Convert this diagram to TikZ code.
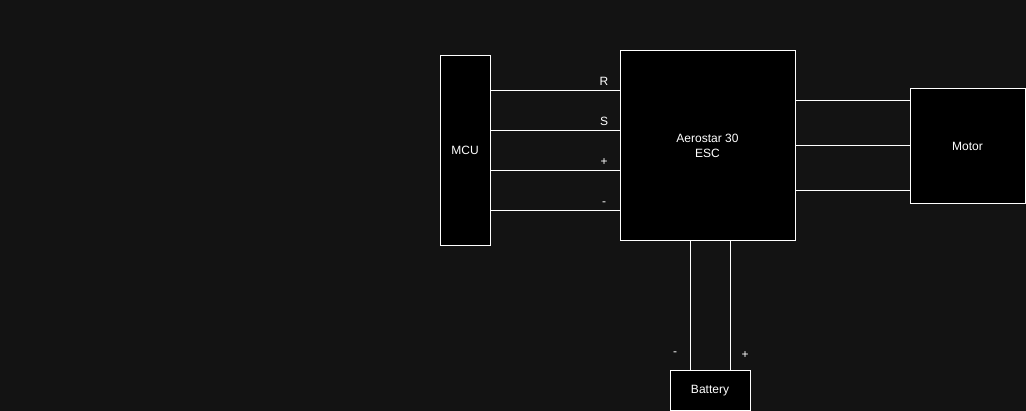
\documentclass[tikz,border=0pt]{standalone}
\usepackage{fontspec}
\setmainfont{Liberation Sans}
\usepackage{tikz}
\definecolor{canvas}{RGB}{19,19,19}
\tikzset{%
  wiring/.style = {
    x=1pt, y=-1pt,
    every node/.style = {text=white, font=\fontsize{12}{15}\selectfont},
    block/.style = {shape=rectangle, draw=white, fill=black,
      line width=1pt, align=center, inner sep=0pt},
    wire/.style = {draw=white, line width=1pt},
    pinlabel/.style = {anchor=base, yshift=4.5pt}
  }
}

\begin{document}
\begin{tikzpicture}[wiring]
  \fill[canvas] (0,-0.5) rectangle (1026,410.5);
  \useasboundingbox (0,-0.5) rectangle (1026,410.5);
  % blocks
  \node[block, minimum width=50, minimum height=190] (mcu) at (465,150) {MCU};
  \node[block, minimum width=175, minimum height=190] (esc) at (707.5,145) {Aerostar 30\\ESC};
  \node[block, minimum width=115, minimum height=115] (motor) at (967.5,145.5) {Motor};
  \node[block, minimum width=80, minimum height=40] (battery) at (710,390) {Battery};
  % signal and power lines to the ESC
  \foreach \y/\lab in {90/R,130/S,170/+,210/-}
    \draw[wire] (mcu.east |- 0,\y) -- node[pinlabel, pos=.88] {\lab} (esc.west |- 0,\y);
  % motor phases
  \foreach \y in {100,145,190}
    \draw[wire] (esc.east |- 0,\y) -- (motor.west |- 0,\y);
  % battery leads
  \draw[wire] (esc.south -| 690,0) -- node[pos=.87, xshift=-15pt] {-} (battery.north -| 690,0);
  \draw[wire] (esc.south -| 730,0) -- node[pos=.885, xshift=15pt] {+} (battery.north -| 730,0);
\end{tikzpicture}
\end{document}
